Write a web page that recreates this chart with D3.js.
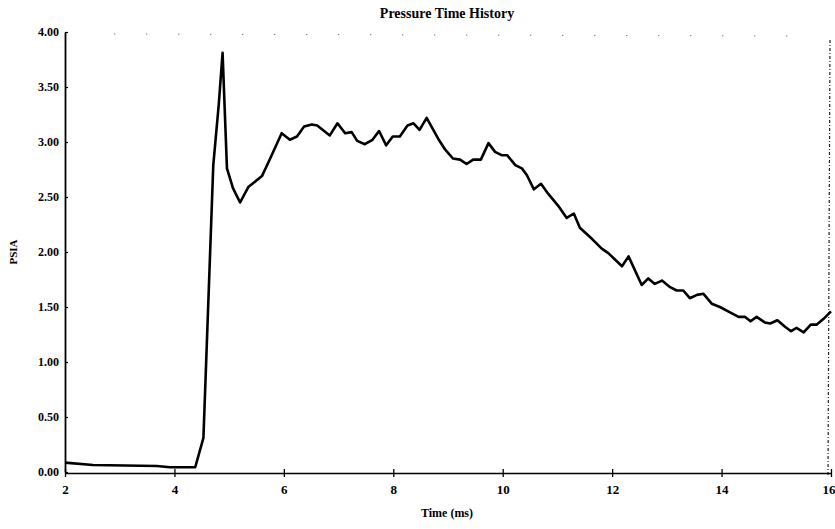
<!DOCTYPE html>
<html>
<head>
<meta charset="utf-8">
<script src="https://cdn.jsdelivr.net/npm/d3@7/dist/d3.min.js"></script>
<style>
  html, body { margin: 0; padding: 0; background: #fff; }
  svg { display: block; }
  text { font-family: "Liberation Serif", "DejaVu Serif", serif; font-weight: bold; fill: #000; }
</style>
</head>
<body>
<svg id="chart" width="835" height="529"></svg>
<script>
const chartTitle = "Pressure Time History";
const xAxisTitle = "Time (ms)";
const yAxisTitle = "PSIA";

const xTickValues = [2, 4, 6, 8, 10, 12, 14, 16];
const yTickValues = [0, 0.5, 1, 1.5, 2, 2.5, 3, 3.5, 4];

const timeMs = [
  2.00, 2.51, 3.68, 3.92, 4.38, 4.53, 4.71, 4.81, 4.88, 4.96,
  5.07, 5.20, 5.35, 5.60, 5.75, 5.96, 6.11, 6.24, 6.37, 6.51,
  6.61, 6.84, 6.98, 7.12, 7.24, 7.34, 7.48, 7.62, 7.74, 7.87,
  7.99, 8.12, 8.26, 8.37, 8.48, 8.61, 8.82, 8.95, 9.09, 9.22,
  9.34, 9.46, 9.60, 9.74, 9.86, 9.98, 10.08, 10.23, 10.35, 10.44,
  10.57, 10.70, 10.83, 11.03, 11.17, 11.30, 11.41, 11.63, 11.81, 11.93,
  12.18, 12.30, 12.54, 12.66, 12.78, 12.91, 13.06, 13.18, 13.30, 13.42,
  13.55, 13.67, 13.82, 13.97, 14.12, 14.31, 14.43, 14.53, 14.64, 14.79,
  14.89, 15.02, 15.16, 15.27, 15.37, 15.50, 15.63, 15.74, 15.86, 16.00
];
const pressurePsia = [
  0.085, 0.064, 0.055, 0.043, 0.043, 0.31, 2.79, 3.34, 3.81, 2.76,
  2.58, 2.45, 2.59, 2.69, 2.85, 3.08, 3.02, 3.05, 3.14, 3.16,
  3.15, 3.06, 3.17, 3.08, 3.09, 3.01, 2.98, 3.02, 3.10, 2.97,
  3.05, 3.05, 3.15, 3.17, 3.11, 3.22, 3.03, 2.93, 2.85, 2.84,
  2.80, 2.84, 2.84, 2.99, 2.91, 2.88, 2.88, 2.79, 2.76, 2.70,
  2.57, 2.62, 2.53, 2.41, 2.31, 2.35, 2.22, 2.12, 2.03, 1.99,
  1.87, 1.96, 1.70, 1.76, 1.71, 1.74, 1.68, 1.65, 1.65, 1.58,
  1.61, 1.62, 1.53, 1.50, 1.46, 1.41, 1.41, 1.37, 1.41, 1.36,
  1.35, 1.38, 1.32, 1.28, 1.31, 1.27, 1.34, 1.34, 1.39, 1.46
];

(function () {
const svg = d3.select("#chart");
const mLeft = 65, mRight = 831, mTop = 32, mBottom = 472;

const x = d3.scaleLinear().domain([2, 16]).range([mLeft, mRight]);
const y = d3.scaleLinear().domain([0, 4]).range([mBottom, mTop]);

// Title
svg.append("text")
  .attr("x", 447).attr("y", 18)
  .attr("text-anchor", "middle")
  .style("font-size", "14px")
  .text(chartTitle);

// top dotted border (faint, scanned look)
svg.append("line")
  .attr("x1", x(2.9)).attr("x2", x(15.5))
  .attr("y1", mTop + 2).attr("y2", mTop + 4)
  .attr("stroke", "#444").attr("stroke-width", 1)
  .attr("stroke-dasharray", "1,31");

// right dashed border
svg.append("line")
  .attr("x1", mRight - 1).attr("x2", mRight - 3)
  .attr("y1", mTop + 8).attr("y2", mBottom + 4)
  .attr("stroke", "#222").attr("stroke-width", 1.2)
  .attr("stroke-dasharray", "3,2,1,2");

// X axis
const xAxis = d3.axisBottom(x).tickValues(xTickValues).tickFormat(d3.format("d"))
  .tickSize(0).tickPadding(12);
const gx = svg.append("g").attr("transform", `translate(0,${mBottom + 1})`).call(xAxis);
gx.select(".domain").attr("stroke", "#000").attr("stroke-width", 1.6);
gx.selectAll(".tick text")
  .style("font-size", "13px").style("font-family", "Liberation Serif, serif").style("font-weight", "bold")
  .attr("text-anchor", d => d === 16 ? "end" : "middle")
  .attr("dx", d => d === 16 ? "4" : "0");
gx.selectAll(".tick").append("line")
  .attr("y1", -4).attr("y2", 4).attr("stroke", "#000").attr("stroke-width", 1.3);

// Y axis
const yAxis = d3.axisLeft(y).tickValues(yTickValues).tickFormat(d3.format(".2f"))
  .tickSize(0).tickPadding(6);
const gy = svg.append("g").attr("transform", `translate(${mLeft},0)`).call(yAxis);
gy.select(".domain").attr("stroke", "#000").attr("stroke-width", 1.8);
gy.selectAll(".tick text").style("font-size", "12px").style("font-family", "Liberation Serif, serif").style("font-weight", "bold");
gy.selectAll(".tick").append("line")
  .attr("x1", 0).attr("x2", 3).attr("stroke", "#000").attr("stroke-width", 1.2);

// Axis titles
svg.append("text")
  .attr("x", 447).attr("y", 517)
  .attr("text-anchor", "middle")
  .style("font-size", "12px")
  .text(xAxisTitle);

svg.append("text")
  .attr("transform", `translate(17,${(mTop + mBottom) / 2}) rotate(-90)`)
  .attr("text-anchor", "middle")
  .style("font-size", "11px")
  .text(yAxisTitle);

// Data line
const pts = timeMs.map((t, i) => [t, pressurePsia[i]]);
const line = d3.line().x(d => x(d[0])).y(d => y(d[1]));
svg.append("path")
  .datum(pts)
  .attr("d", line)
  .attr("fill", "none")
  .attr("stroke", "#000")
  .attr("stroke-width", 2.6)
  .attr("stroke-linejoin", "round");
})();
</script>
</body>
</html>
